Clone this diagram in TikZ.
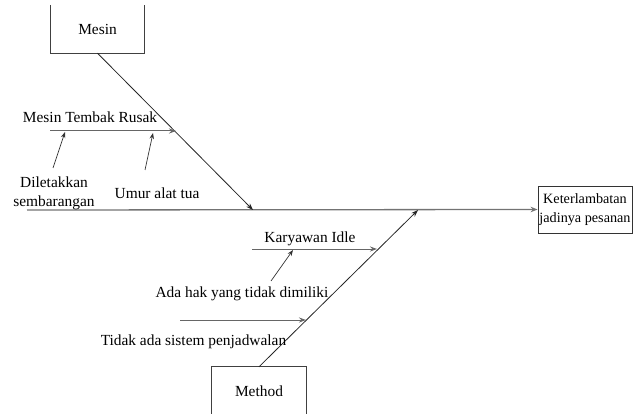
\documentclass[tikz,border=0pt]{standalone}
\usepackage{fontspec}
\setmainfont{Liberation Serif}
\usetikzlibrary{arrows.meta}
\begin{document}
\begin{tikzpicture}[x=1pt,y=-1pt,
  lbl/.style={inner sep=0pt,font=\fontsize{15.4}{19}\selectfont},
  catbox/.style={minimum width=94pt,minimum height=48pt,inner sep=0pt,font=\fontsize{15.4}{19}\selectfont},
  effbox/.style={draw=black!80,line width=0.8pt,minimum width=94pt,minimum height=47pt,inner sep=0pt,align=center,font=\fontsize{14.2}{19}\selectfont},
  bone/.style={draw=black!85,line width=0.8pt,-{Stealth[length=7pt,width=5pt]}},
  spine/.style={draw=black!55,line width=1.3pt,-{Stealth[length=7pt,width=5.5pt]}},
  sub/.style={draw=black!60,line width=1pt,-{Stealth[length=7pt,width=5pt]}},
  cause/.style={draw=black!80,line width=0.7pt,-{Stealth[length=6pt,width=4.5pt]}},
  boxline/.style={draw=black!75,line width=0.8pt}]
\useasboundingbox (0,0) rectangle (637,414);
% category boxes (open at the picture edge)
\node[catbox] (mesin) at (97.5,29) {Mesin};
\draw[boxline] (mesin.north west) -- (mesin.south west) -- (mesin.south east) -- (mesin.north east);
\node[catbox] (method) at (259,391) {Method};
\draw[boxline] (method.south west) -- (method.north west) -- (method.north east) -- (method.south east);
% effect
\node[effbox] (eff) at (585,209.5) {Keterlambatan\\jadinya pesanan};
% spine
\coordinate (s0) at (27,210);
\coordinate (j1) at (253,210);
\coordinate (j2) at (418,210);
\draw[spine] (s0) -- (eff.west);
% main bones
\draw[bone] (mesin.south) -- (j1);
\draw[bone] (method.north) -- (j2);
% Mesin sub-bone
\coordinate (a0) at (50,131);
\coordinate (a1) at (176,131);
\draw[sub] (a0) -- (a1);
\node[lbl] (t1) at (90,117) {Mesin Tembak Rusak};
\coordinate (c1s) at (53,168); \coordinate (c1e) at (65,132);
\draw[cause] (c1s) -- (c1e);
\coordinate (c2s) at (145,170); \coordinate (c2e) at (153,133);
\draw[cause] (c2s) -- (c2e);
\node[lbl,align=center] (t2) at (54,193) {Diletakkan\\sembarangan};
\node[lbl] (t3) at (157,193) {Umur alat tua};
% Method sub-bones
\coordinate (b0) at (252,249);
\coordinate (b1) at (377,249);
\draw[sub] (b0) -- (b1);
\node[lbl] (t4) at (310,239) {Karyawan Idle};
\coordinate (c3s) at (271,281); \coordinate (c3e) at (293,250);
\draw[cause] (c3s) -- (c3e);
\node[lbl] (t5) at (242,294) {Ada hak yang tidak dimiliki};
\coordinate (d0) at (180,320);
\coordinate (d1) at (306,320);
\draw[sub] (d0) -- (d1);
\node[lbl] (t6) at (193.5,342) {Tidak ada sistem penjadwalan};
\end{tikzpicture}
\end{document}
